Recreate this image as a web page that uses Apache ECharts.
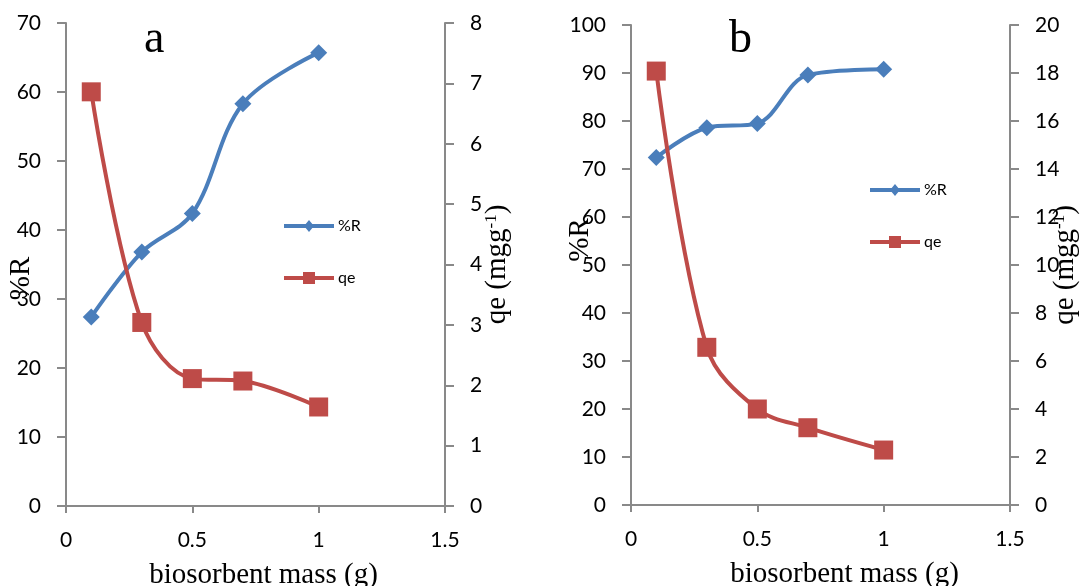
<!DOCTYPE html>
<html>
<head>
<meta charset="utf-8">
<script src="https://cdn.jsdelivr.net/npm/echarts@6/dist/echarts.min.js"></script>
<style>
html, body { margin: 0; padding: 0; background: #fff; }
#chart { width: 1081px; height: 586px; }
</style>
</head>
<body>
<div id="chart"></div>
<script>
// Biosorbent mass (g) used in each run
const massA = [0.1, 0.3, 0.5, 0.7, 1.0];
const massB = [0.1, 0.3, 0.5, 0.7, 1.0];
// Panel a: removal (%R) and uptake qe (mg/g)
const removalA = [27.4, 36.8, 42.4, 58.3, 65.7];
const qeA = [6.86, 3.04, 2.11, 2.07, 1.64];
// Panel b: removal (%R) and uptake qe (mg/g)
const removalB = [72.4, 78.6, 79.5, 89.6, 90.8];
const qeB = [18.08, 6.57, 4.0, 3.22, 2.29];

const BLUE = '#4A7EBB';
const RED = '#BE4B48';
const AXIS = '#898989';
const SANS = 'Lato, "Open Sans", sans-serif';
const SERIF = '"Liberation Serif", "DejaVu Serif", serif';

// Legend keys: a thick line segment with the series marker in its middle
const ICON_DIAMOND = 'path://M0,4 L21.7,4 L25,0 L28.3,4 L50,4 L50,8 L28.3,8 L25,12 L21.7,8 L0,8 Z';
const ICON_SQUARE = 'path://M0,4 L19,4 L19,0 L31,0 L31,4 L50,4 L50,8 L31,8 L31,12 L19,12 L19,8 L0,8 Z';

const pairs = (xs, ys) => xs.map((x, i) => [x, ys[i]]);

function xAxis(gridIndex, shift) {
  return {
    type: 'value', gridIndex, min: 0, max: 1.5, interval: 0.5,
    name: 'biosorbent mass (g)', nameLocation: 'middle', nameGap: 55, nameMoveOverlap: false,
    nameTextStyle: { fontFamily: SERIF, fontSize: 29, color: '#000', padding: [0, 0, 0, shift] },
    axisLine: { show: true, lineStyle: { color: AXIS, width: 2 } },
    axisTick: { show: true, length: 7, lineStyle: { color: AXIS, width: 2 } },
    axisLabel: { fontFamily: SANS, fontSize: 21, color: '#000', margin: 24 },
    splitLine: { show: false }
  };
}

function yAxis(gridIndex, position, max, interval, name, gap, pad) {
  return {
    type: 'value', gridIndex, position, min: 0, max, interval,
    name, nameLocation: 'middle', nameGap: gap, nameRotate: 90, nameMoveOverlap: false,
    nameTextStyle: {
      fontFamily: SERIF, fontSize: 29, color: '#000', padding: pad,
      rich: { sup: { fontFamily: SERIF, fontSize: 17, verticalAlign: 'top', color: '#000' } }
    },
    axisLine: { show: true, lineStyle: { color: AXIS, width: 2 } },
    axisTick: { show: true, length: 9, lineStyle: { color: AXIS, width: 2 } },
    axisLabel: { fontFamily: SANS, fontSize: 21, color: '#000', margin: 25 },
    splitLine: { show: false }
  };
}

function lineSeries(name, xIdx, yIdx, data, color, symbol, size) {
  return {
    type: 'line', name, xAxisIndex: xIdx, yAxisIndex: yIdx,
    data, smooth: 0.35, symbol, symbolSize: size,
    lineStyle: { color, width: 4 },
    itemStyle: { color },
    z: name === 'qe' ? 3 : 2
  };
}

function legend(left, top, gap) {
  return {
    orient: 'vertical', left, top, itemWidth: 50, itemHeight: 12, itemGap: gap,
    textStyle: { fontFamily: SANS, fontSize: 16, color: '#000', padding: [0, 0, 0, -1] },
    data: [
      { name: '%R', icon: ICON_DIAMOND },
      { name: 'qe', icon: ICON_SQUARE }
    ]
  };
}

const qeName = 'qe (mgg{sup|-1})';

const option = {
  animation: false,
  backgroundColor: '#fff',
  title: [
    { text: 'a', left: 139, top: 12, textStyle: { fontFamily: SERIF, fontSize: 46, fontWeight: 'normal', color: '#000' } },
    { text: 'b', left: 724, top: 12, textStyle: { fontFamily: SERIF, fontSize: 46, fontWeight: 'normal', color: '#000' } }
  ],
  grid: [
    { left: 66, top: 23, width: 379, height: 483, outerBoundsMode: 'none' },
    { left: 631, top: 25, width: 379, height: 480, outerBoundsMode: 'none' }
  ],
  xAxis: [xAxis(0, 16), xAxis(1, 48)],
  yAxis: [
    yAxis(0, 'left', 70, 10, '%R', 30, [0, 28, 0, 0]),
    yAxis(0, 'right', 8, 1, qeName, 38, [0, 0, 0, 0]),
    yAxis(1, 'left', 100, 10, '%R', 36, [0, 0, 0, 50]),
    yAxis(1, 'right', 20, 2, qeName, 41, [0, 0, 0, 0])
  ],
  legend: [legend(279, 213, 36), legend(865, 177, 36)],
  series: [
    lineSeries('%R', 0, 0, pairs(massA, removalA), BLUE, 'diamond', 17),
    lineSeries('qe', 0, 1, pairs(massA, qeA), RED, 'rect', 19),
    lineSeries('%R', 1, 2, pairs(massB, removalB), BLUE, 'diamond', 17),
    lineSeries('qe', 1, 3, pairs(massB, qeB), RED, 'rect', 19)
  ]
};

const chart = echarts.init(document.getElementById('chart'), null, { renderer: 'canvas' });
chart.setOption(option);
</script>
</body>
</html>
